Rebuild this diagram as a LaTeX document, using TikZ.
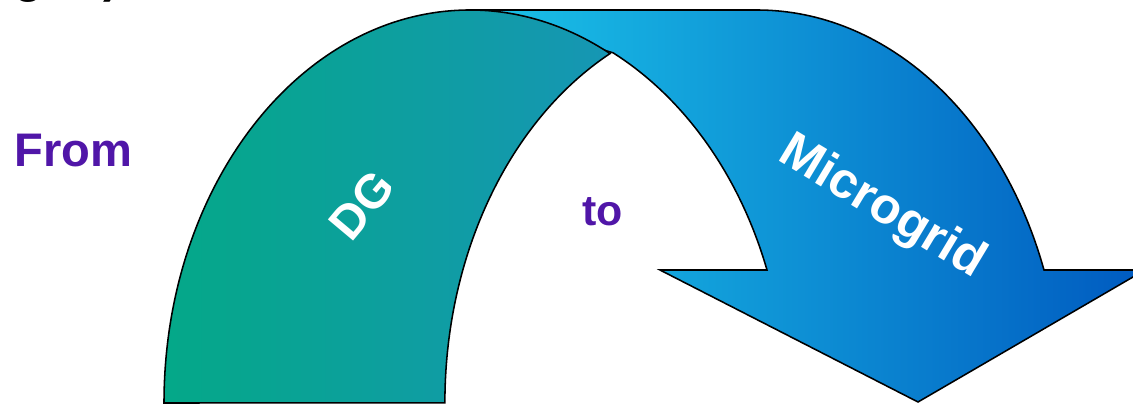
\documentclass[tikz,border=0pt]{standalone}
\usepackage{fontspec}
\setmainfont{Liberation Sans}
\usepackage{tikz}
\usetikzlibrary{positioning}
\usepackage{xcolor}

\definecolor{dgleft}{RGB}{4,168,136}
\definecolor{dgmid}{RGB}{26,178,176}
\definecolor{dgright}{RGB}{22,150,180}
\definecolor{mgleft}{RGB}{27,196,232}
\definecolor{mgmid}{RGB}{8,150,228}
\definecolor{mgright}{RGB}{0,90,192}
\definecolor{wordcol}{RGB}{80,22,168}

\begin{document}
\begin{tikzpicture}[
  x=0.025cm, y=0.025cm,
  band/.style={draw=black, line width=1.1pt, line join=miter},
  word/.style={font=\bfseries\fontsize{33.5}{38}\selectfont, text=wordcol, inner sep=0pt},
  arcword/.style={font=\bfseries\fontsize{34}{38}\selectfont, text=white, inner sep=0pt}
]
  \useasboundingbox (0,0) rectangle (1133,404);

  \draw[band, left color=mgleft, middle color=mgmid, right color=mgright]
    (470,394) -- (757,394)
    arc[start angle=90, end angle=19.78, x radius=305, y radius=393]
    -- (1145,134) -- (918,2) -- (660,134) -- (767,134)
    arc[start angle=19.78, end angle=63, x radius=316, y radius=393]
    -- cycle;
  \draw[band, left color=dgleft, middle color=dgmid, right color=dgright]
    (164,1) arc[start angle=180, end angle=62.77, x radius=306, y radius=393]
    arc[start angle=117.3, end angle=180, x radius=305, y radius=393]
    -- cycle;

  \node[word, text=black, anchor=base west] (head) at (14,412) {grid)};
  \node[word, anchor=base west] (from) at (14,238) {From};
  \node[word, font=\bfseries\fontsize{30.5}{34}\selectfont, anchor=base west] (to) at (582,179) {to};
  \node[arcword, rotate=50] (dg) at (362,199) {DG};
  \node[arcword, font=\bfseries\fontsize{36}{40}\selectfont, rotate=-31] (mg) at (882,196) {Microgrid};
\end{tikzpicture}
\end{document}
